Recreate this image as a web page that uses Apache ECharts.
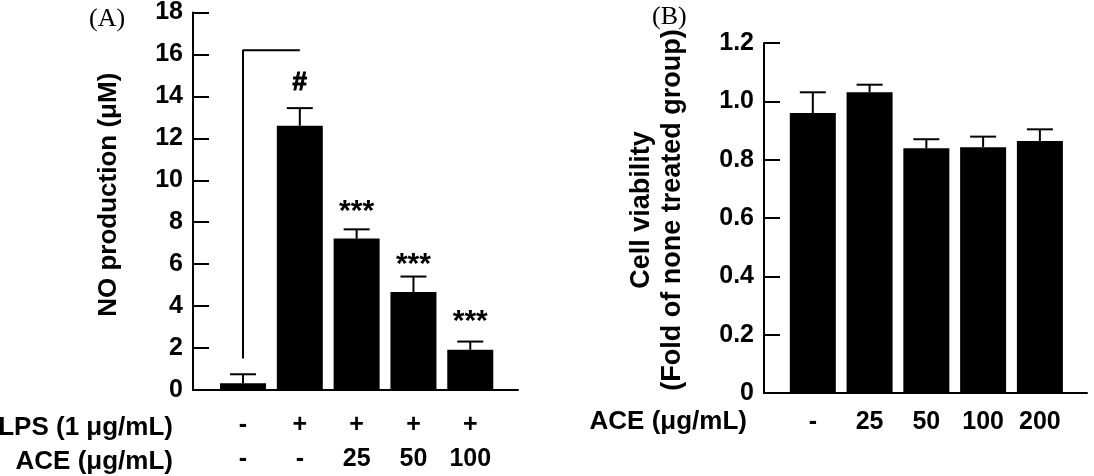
<!DOCTYPE html>
<html>
<head>
<meta charset="utf-8">
<script src="https://cdn.jsdelivr.net/npm/echarts@6/dist/echarts.min.js"></script>
<style>
  html, body { margin: 0; padding: 0; background: #fff; }
  #chart { width: 1094px; height: 476px; }
</style>
</head>
<body>
<div id="chart"></div>
<script>
// panel A: NO production
const lpsLabels = ['-', '+', '+', '+', '+'];
const aceLabelsA = ['-', '-', '25', '50', '100'];
const noMean = [0.32, 12.6, 7.22, 4.67, 1.92];
const noErrTop = [0.75, 13.44, 7.66, 5.41, 2.31];
const noSig = ['', '#', '***', '***', '***'];
const noSigY = [0, 14.65, 8.5, 5.95, 3.25];
const bracket = [[0, 1.5], [0, 16.2], [1, 16.2]];

// panel B: cell viability
const aceLabelsB = ['-', '25', '50', '100', '200'];
const viaMean = [0.96, 1.031, 0.839, 0.843, 0.864];
const viaErrTop = [1.031, 1.057, 0.870, 0.879, 0.904];

const font = 'Liberation Sans, Arial, sans-serif';
const black = '#000';

const idx = [0, 1, 2, 3, 4];

const errRender = (params, api) => {
  const top = api.coord([api.value(0), api.value(1)]);
  const base = api.coord([api.value(0), api.value(2)]);
  const style = { stroke: black, lineWidth: 2 };
  return {
    type: 'group',
    children: [
      { type: 'line', shape: { x1: top[0], y1: base[1], x2: top[0], y2: top[1] }, style },
      { type: 'line', shape: { x1: top[0] - 13, y1: top[1], x2: top[0] + 13, y2: top[1] }, style },
    ],
  };
};

const sigRender = (params, api) => {
  const p = api.coord([api.value(0), api.value(1)]);
  const text = noSig[api.value(0)];
  const star = text.indexOf('*') >= 0;
  return {
    type: 'text',
    x: p[0],
    y: p[1],
    style: {
      text,
      fill: black,
      stroke: star ? null : black,
      lineWidth: star ? 0 : 1,
      font: star ? 'bold 30px ' + font : 'bold 26px ' + font,
      align: 'center',
      verticalAlign: 'middle',
    },
  };
};

const xAxisBase = (gridIndex, min, max, formatter, margin, lineHeight, fontSize) => ({
  type: 'value',
  gridIndex,
  min,
  max,
  axisLine: { show: true, onZero: false, lineStyle: { color: black, width: 2 } },
  axisTick: { show: false },
  splitLine: { show: false },
  axisLabel: {
    customValues: idx,
    formatter,
    margin,
    lineHeight,
    color: black,
    fontFamily: font,
    fontWeight: 'bold',
    fontSize,
  },
});

const yAxisBase = (gridIndex, max, interval, name, nameGap, nameSize, shift, formatter) => ({
  type: 'value',
  gridIndex,
  min: 0,
  max,
  interval,
  name,
  nameLocation: 'middle',
  nameGap,
  nameRotate: 90,
  nameTextStyle: {
    color: black,
    fontFamily: font,
    fontWeight: 'bold',
    fontSize: nameSize,
    lineHeight: 31,
    padding: [0, 0, 0, shift],
  },
  axisLine: { show: true, onZero: false, lineStyle: { color: black, width: 2 } },
  axisTick: { show: true, inside: true, length: 16, lineStyle: { color: black, width: 2 } },
  splitLine: { show: false },
  axisLabel: {
    color: black,
    fontFamily: font,
    fontWeight: 'bold',
    fontSize: 25,
    margin: 10,
    formatter,
  },
});

const rowTitle = (x, y, text) => ({
  type: 'text',
  x,
  y,
  style: {
    text,
    fill: black,
    font: 'bold 26px ' + font,
    align: 'right',
    verticalAlign: 'middle',
  },
});

const panelTitle = (x, y, text) => ({
  type: 'text',
  x,
  y,
  style: {
    text,
    fill: black,
    font: '26px Liberation Serif, Times New Roman, serif',
    align: 'left',
    verticalAlign: 'middle',
  },
});

const myChart = echarts.init(document.getElementById('chart'));
myChart.setOption({
  animation: false,
  grid: [
    { left: 193, top: 6, width: 325, bottom: 83 },
    { left: 764, top: 43, width: 323, bottom: 83 },
  ],
  xAxis: [
    xAxisBase(0, -0.88, 4.84, v => lpsLabels[v] + '\n' + aceLabelsA[v], 18, 34, 25),
    xAxisBase(1, -0.86, 4.83, v => aceLabelsB[v], 14, 30, 25),
  ],
  yAxis: [
    yAxisBase(0, 18, 2, 'NO production (μM)', 69, 26, 13, v => String(v)),
    yAxisBase(1, 1.2, 0.2, 'Cell viability\n(Fold of none treated group)', 76, 27, 16,
      v => (v === 0 ? '0' : v.toFixed(1))),
  ],
  graphic: [
    panelTitle(89, 19, '(A)'),
    panelTitle(652, 17, '(B)'),
    rowTitle(173, 428, 'LPS (1 μg/mL)'),
    rowTitle(173, 462, 'ACE (μg/mL)'),
    rowTitle(747, 422, 'ACE (μg/mL)'),
  ],
  series: [
    {
      type: 'bar',
      xAxisIndex: 0,
      yAxisIndex: 0,
      barWidth: 46,
      itemStyle: { color: black },
      data: noMean.map((v, i) => [i, v]),
    },
    {
      type: 'custom',
      xAxisIndex: 0,
      yAxisIndex: 0,
      renderItem: errRender,
      data: noErrTop.map((v, i) => [i, v, noMean[i]]),
    },
    {
      type: 'custom',
      xAxisIndex: 0,
      yAxisIndex: 0,
      renderItem: sigRender,
      data: noSigY.map((v, i) => [i, v]),
    },
    {
      type: 'line',
      xAxisIndex: 0,
      yAxisIndex: 0,
      symbol: 'none',
      lineStyle: { color: black, width: 2 },
      data: bracket,
    },
    {
      type: 'bar',
      xAxisIndex: 1,
      yAxisIndex: 1,
      barWidth: 46,
      itemStyle: { color: black },
      data: viaMean.map((v, i) => [i, v]),
    },
    {
      type: 'custom',
      xAxisIndex: 1,
      yAxisIndex: 1,
      renderItem: errRender,
      data: viaErrTop.map((v, i) => [i, v, viaMean[i]]),
    },
  ],
});
</script>
</body>
</html>
